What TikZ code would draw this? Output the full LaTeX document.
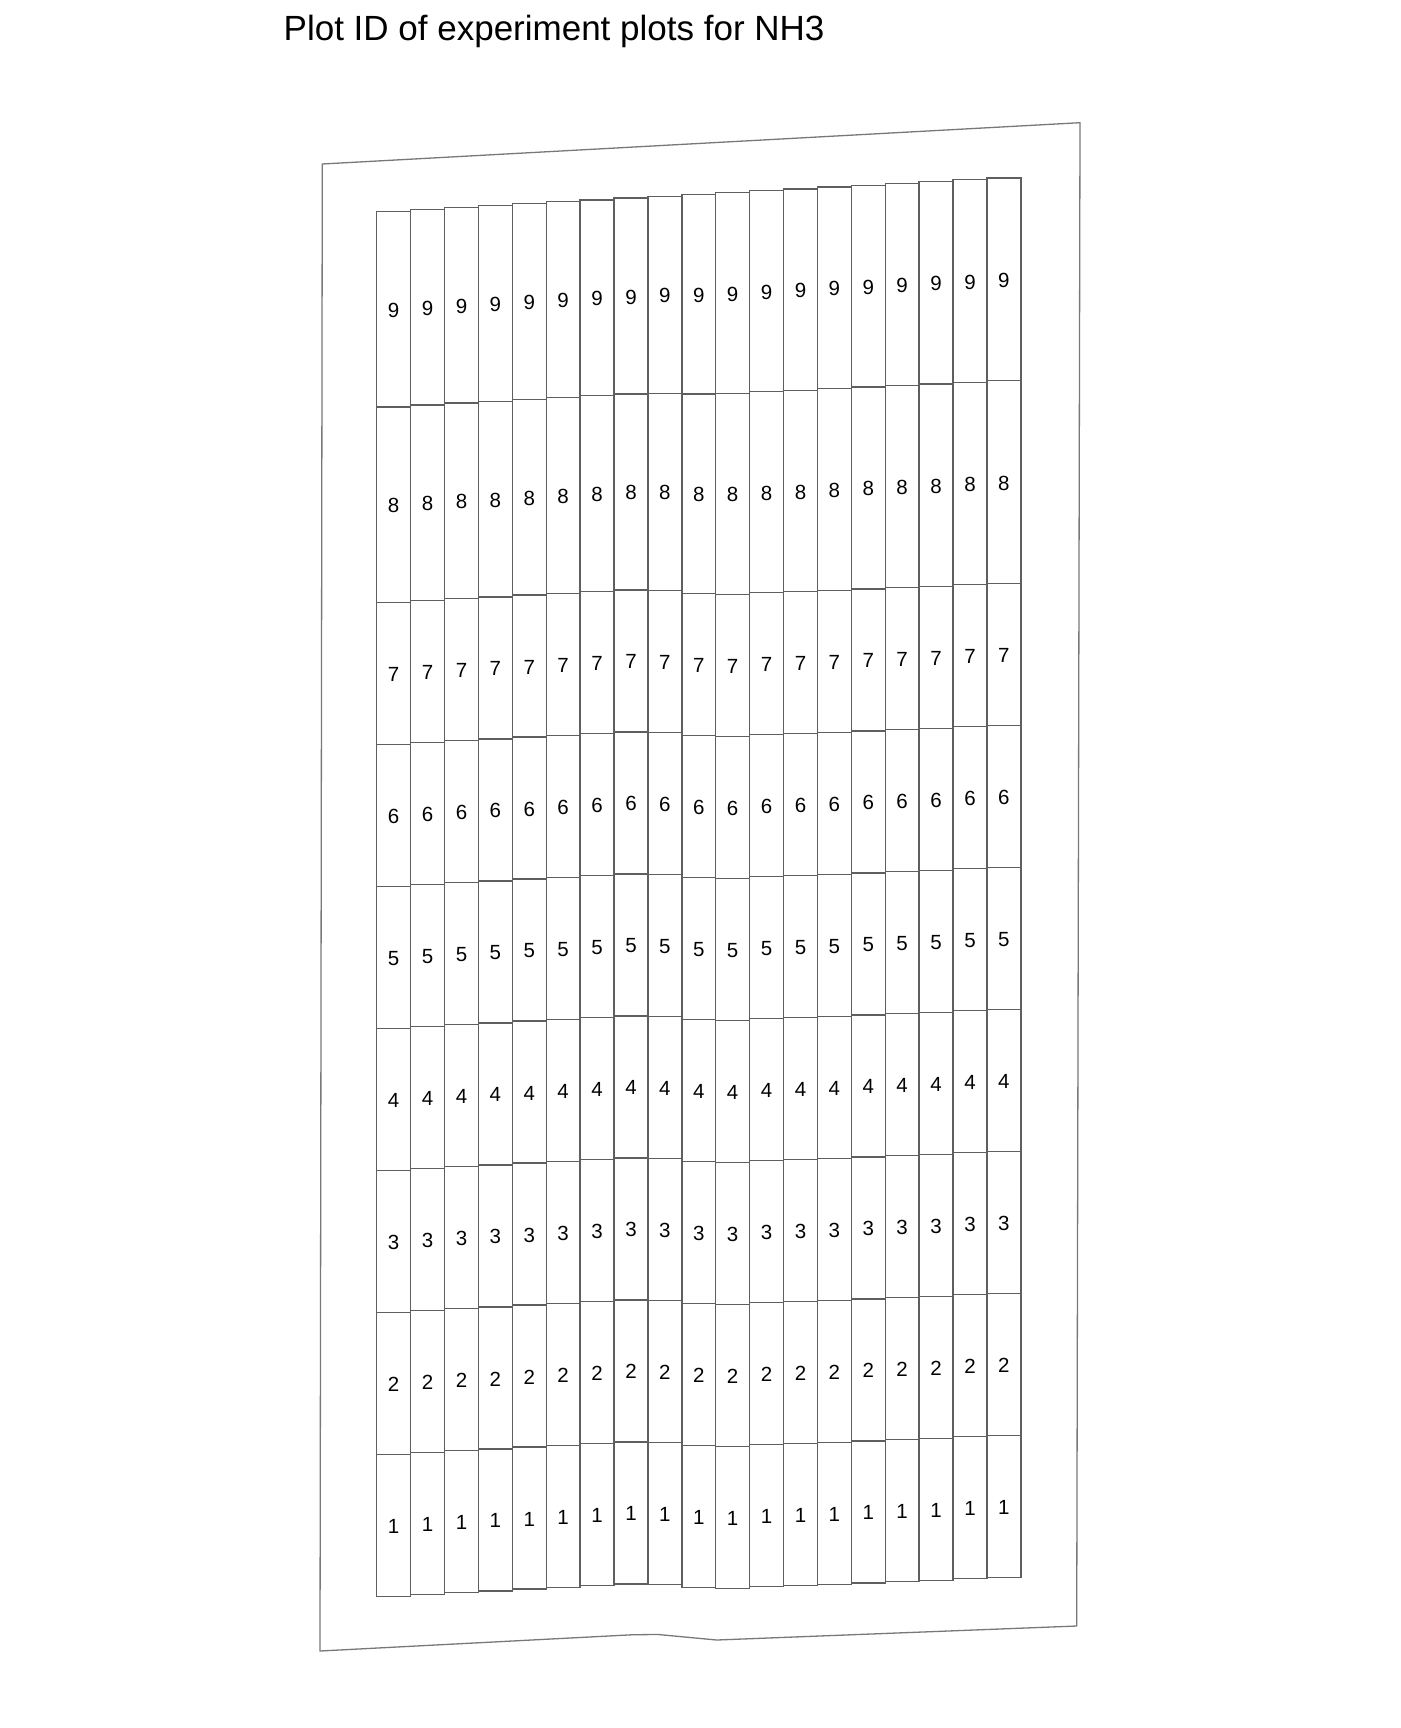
\documentclass[tikz,border=0pt]{standalone}
\usepackage{fontspec}
\setmainfont{Liberation Sans}
\begin{document}
\begin{tikzpicture}[x=1pt, y=-1pt,
    plotcell/.style={draw=plotgray, line width=1.4pt},
    plotid/.style={font=\fontsize{20.5}{20.5}\selectfont, inner sep=0pt}]
    % colours of the plot outlines
    \definecolor{plotgray}{RGB}{95,95,95}
    \definecolor{bordergray}{RGB}{120,120,120}

    \useasboundingbox (0,0) rectangle (1400,1728);

    % 1. Title
    \node[anchor=base west, inner sep=0pt, font=\fontsize{35}{35}\selectfont] (title)
        at (283.5,41) {Plot ID of experiment plots for NH3};

    % 2. Field border
    \draw[draw=bordergray, line width=1.3pt]
        (322.3,164) -- (1080,122.7) -- (1076.7,1626) -- (716.7,1640)
        -- (658.3,1634.5) -- (633.3,1634.7) -- (320,1651) -- cycle;

    % 3. Plots, column by column: column / top edge / top of row 6
    \foreach \c/\t/\b in {1/211.3/744.3, 2/209.3/742.6, 3/207.6/740.7,
                          4/205.5/738.9, 5/203.6/737.0, 6/201.7/735.3,
                          7/199.9/733.6, 8/198.2/731.8, 9/196.3/732.4,
                          10/194.4/735.3, 11/192.6/736.3, 12/190.7/734.7,
                          13/189.0/733.6, 14/187.1/732.2, 15/185.3/730.8,
                          16/183.5/729.4, 17/181.7/728.2, 18/179.8/726.6,
                          19/178.0/725.5} {
        \pgfmathsetmacro{\xl}{376.7+33.9*(\c-1)}
        \pgfmathsetmacro{\xr}{\xl+33.9}
        \pgfmathsetmacro{\xm}{\xl+16.95}
        \pgfmathsetmacro{\ya}{\b-142}
        \pgfmathsetmacro{\ym}{(\t+\ya)/2}
        % rows 9 and 8 (taller)
        \draw[plotcell] (\xl,\t) rectangle (\xr,\ym);
        \node[plotid] (id-\c-9) at (\xm,{(\t+\ym)/2+1}) {9};
        \draw[plotcell] (\xl,\ym) rectangle (\xr,\ya);
        \node[plotid] (id-\c-8) at (\xm,{(\ym+\ya)/2+1}) {8};
        % rows 7 to 1
        \foreach \r in {1,...,7} {
            \pgfmathsetmacro{\yt}{\b+142*(6-\r)}
            \draw[plotcell] (\xl,\yt) rectangle (\xr,\yt+142);
            \node[plotid] (id-\c-\r) at (\xm,\yt+72) {\r};
        }
    }
\end{tikzpicture}
\end{document}
